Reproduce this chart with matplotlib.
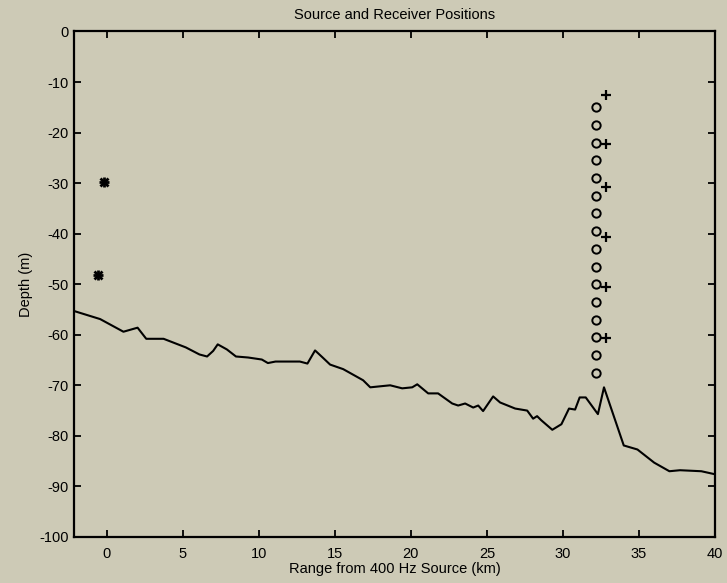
import matplotlib
matplotlib.use("Agg")
from matplotlib import pyplot as plt

# bathymetry (range km, depth m)
bathy_range = [-2.15, -0.43, 1.10, 2.03, 2.60, 3.74, 5.2, 6.1, 6.6, 7.0, 7.3, 7.9,
               8.5, 9.3, 10.2, 10.6, 11.1, 12.7, 13.2, 13.7, 14.2, 14.69, 15.55,
               16.86, 17.33, 17.98, 18.64, 19.43, 20.09, 20.42, 21.14, 21.79,
               22.72, 23.11, 23.57, 24.10, 24.43, 24.75, 25.41, 25.87, 26.86,
               27.65, 28.04, 28.30, 28.57, 29.3, 29.9, 30.4, 30.8, 31.1, 31.5,
               32.3, 32.7, 34.0, 34.9, 36.0, 37.0, 37.7, 39.1, 40.0]
bathy_depth = [-55.3, -56.9, -59.4, -58.6, -60.8, -60.8, -62.5, -63.9, -64.3, -63.2,
               -61.9, -62.9, -64.3, -64.5, -64.9, -65.6, -65.3, -65.3, -65.7, -63.1,
               -64.5, -65.9, -66.8, -69.0, -70.4, -70.2, -70.0, -70.6, -70.4, -69.8,
               -71.6, -71.6, -73.6, -74.0, -73.6, -74.4, -74.0, -75.1, -72.2, -73.4,
               -74.6, -75.0, -76.6, -76.1, -76.9, -78.8, -77.7, -74.6, -74.8, -72.4,
               -72.4, -75.7, -70.4, -81.9, -82.7, -85.3, -87.0, -86.8, -87.0, -87.6]

# sources
src_range = [-0.15, -0.6]
src_depth = [-29.7, -48.2]

# receivers (circles) and second array (plus)
rcv_range = [32.18] * 16
rcv_depth = [-15, -18.5, -22, -25.5, -29, -32.5, -36, -39.5, -43, -46.5,
             -50, -53.5, -57, -60.5, -64, -67.5]
plus_range = [32.84] * 6
plus_depth = [-12.5, -22.3, -30.8, -40.7, -50.6, -60.7]

bg = "#cdcab6"
plt.rcParams["font.family"] = ["Liberation Sans", "DejaVu Sans"]
plt.rcParams["axes.unicode_minus"] = False

fig = plt.figure(figsize=(7.27, 5.83), dpi=100, facecolor=bg)
ax = fig.add_axes([0.1018, 0.079, 0.8817, 0.867], facecolor=bg)

ax.plot(bathy_range, bathy_depth, '-', color='black', linewidth=1.5)
ax.plot(src_range, src_depth, '+', color='black', markersize=7, markeredgewidth=2)
ax.plot(src_range, src_depth, 'x', color='black', markersize=6, markeredgewidth=2)
ax.plot(rcv_range, rcv_depth, 'o', color='black', markerfacecolor='none',
        markersize=6, markeredgewidth=1.4)
ax.plot(plus_range, plus_depth, '+', color='black', markersize=7.5, markeredgewidth=1.6)

ax.set_xlim(-2.15, 40)
ax.set_ylim(-100, 0)
ax.set_xticks([0, 5, 10, 15, 20, 25, 30, 35, 40])
ax.set_yticks([-100, -90, -80, -70, -60, -50, -40, -30, -20, -10, 0])
ax.tick_params(direction='in', top=True, right=True, length=5, width=1.3,
               labelsize=10.5, colors='black', pad=4)
ax.tick_params(axis='x', pad=7)
for s in ax.spines.values():
    s.set_linewidth(1.6)

ax.set_title('Source and Receiver Positions', fontsize=10.5, pad=9)
ax.set_xlabel('Range from 400 Hz Source (km)', fontsize=10.5, labelpad=1)
ax.set_ylabel('Depth (m)', fontsize=10.5, labelpad=4)

fig.savefig("out.png", dpi=100, facecolor=bg)
